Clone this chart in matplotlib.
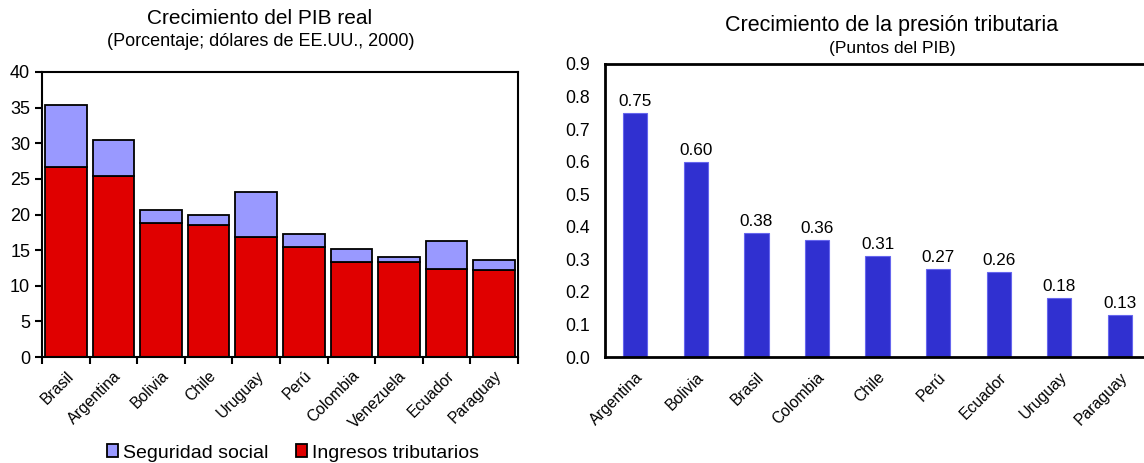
import numpy as np
import matplotlib
matplotlib.use("Agg")
import matplotlib.pyplot as plt
from matplotlib.ticker import FixedLocator, FormatStrFormatter

plt.rcParams.update({"font.family": ["Liberation Sans", "DejaVu Sans"], "font.size": 10})

RED = "#E00000"; LILAC = "#9999FF"; BLUE = "#3030D0"; BLUE_EDGE = "#6666EE"

# left panel: revenue composition
paises_pib = ["Brasil", "Argentina", "Bolivia", "Chile", "Uruguay", "Perú",
              "Colombia", "Venezuela", "Ecuador", "Paraguay"]
ingresos_trib = [26.6, 25.4, 18.8, 18.5, 16.9, 15.5, 13.4, 13.4, 12.4, 12.2]
seguridad_soc = [8.8, 5.1, 1.9, 1.5, 6.3, 1.8, 1.8, 0.7, 3.9, 1.4]

# right panel: tax pressure growth
paises_pres = ["Argentina", "Bolivia", "Brasil", "Colombia", "Chile", "Perú",
               "Ecuador", "Uruguay", "Paraguay"]
presion = [0.75, 0.60, 0.38, 0.36, 0.31, 0.27, 0.26, 0.18, 0.13]

W, H = 1144, 463
fig = plt.figure(figsize=(W/100, H/100), dpi=100)

# ---- left: stacked bars ----
ax1 = fig.add_axes([42/W, 1-357/H, (518-42)/W, (357-72)/H])
x = np.arange(len(paises_pib))
ax1.bar(x, ingresos_trib, width=0.87, color=RED, edgecolor="black", lw=1.3,
        label="Ingresos tributarios")
ax1.bar(x, seguridad_soc, bottom=ingresos_trib, width=0.87, color=LILAC,
        edgecolor="black", lw=1.3, label="Seguridad social")
ax1.set_xlim(-0.5, len(x)-0.5)
ax1.set_ylim(0, 40)
ax1.set_yticks(np.arange(0, 41, 5))
ax1.set_xticks(x)
ax1.set_xticklabels(paises_pib, rotation=45, ha="right", rotation_mode="anchor",
                    fontsize=11.3)
ax1.xaxis.set_minor_locator(FixedLocator(np.arange(-0.5, len(x), 1)))
ax1.tick_params(axis="x", which="major", length=0, pad=8)
ax1.tick_params(axis="x", which="minor", length=5, width=1.5, direction="out")
ax1.tick_params(axis="y", length=5, width=1.5, direction="out", labelsize=13)
for s in ax1.spines.values():
    s.set_linewidth(1.5)

h, l = ax1.get_legend_handles_labels()
fig.legend(h[::-1], l[::-1], loc="center", bbox_to_anchor=(293/W, 1-453/H),
           ncol=2, frameon=False, fontsize=14, handlelength=0.6,
           handleheight=0.6, handletextpad=0.25, columnspacing=1.4)

fig.text(260/W, 1-18/H, "Crecimiento del PIB real", ha="center", va="center",
         fontsize=15)
fig.text(261/W, 1-41/H, "(Porcentaje; dólares de EE.UU., 2000)", ha="center",
         va="center", fontsize=13)

# ---- right: single bars with value labels ----
ax2 = fig.add_axes([605/W, 1-357/H, (1150-605)/W, (357-64)/H])
x2 = np.arange(len(paises_pres))
bars = ax2.bar(x2, presion, width=0.4, color=BLUE, edgecolor=BLUE_EDGE, lw=0.8)
for b, v in zip(bars, presion):
    ax2.text(b.get_x() + b.get_width()/2, v + 0.012, f"{v:.2f}", ha="center",
             va="bottom", fontsize=12.3)
ax2.set_xlim(-0.5, len(x2)-0.5)
ax2.set_ylim(0, 0.9)
ax2.set_yticks(np.arange(0, 0.91, 0.1))
ax2.yaxis.set_major_formatter(FormatStrFormatter("%.1f"))
ax2.set_xticks(x2)
ax2.set_xticklabels(paises_pres, rotation=45, ha="right", rotation_mode="anchor",
                    fontsize=11.3)
ax2.tick_params(axis="x", length=0, pad=9)
ax2.tick_params(axis="y", length=0, pad=11, labelsize=12.7)
for s in ax2.spines.values():
    s.set_linewidth(2)

fig.text(892/W, 1-25/H, "Crecimiento de la presión tributaria", ha="center",
         va="center", fontsize=15.5)
fig.text(892/W, 1-49/H, "(Puntos del PIB)", ha="center", va="center",
         fontsize=12.5)

fig.savefig("out.png", dpi=100)
